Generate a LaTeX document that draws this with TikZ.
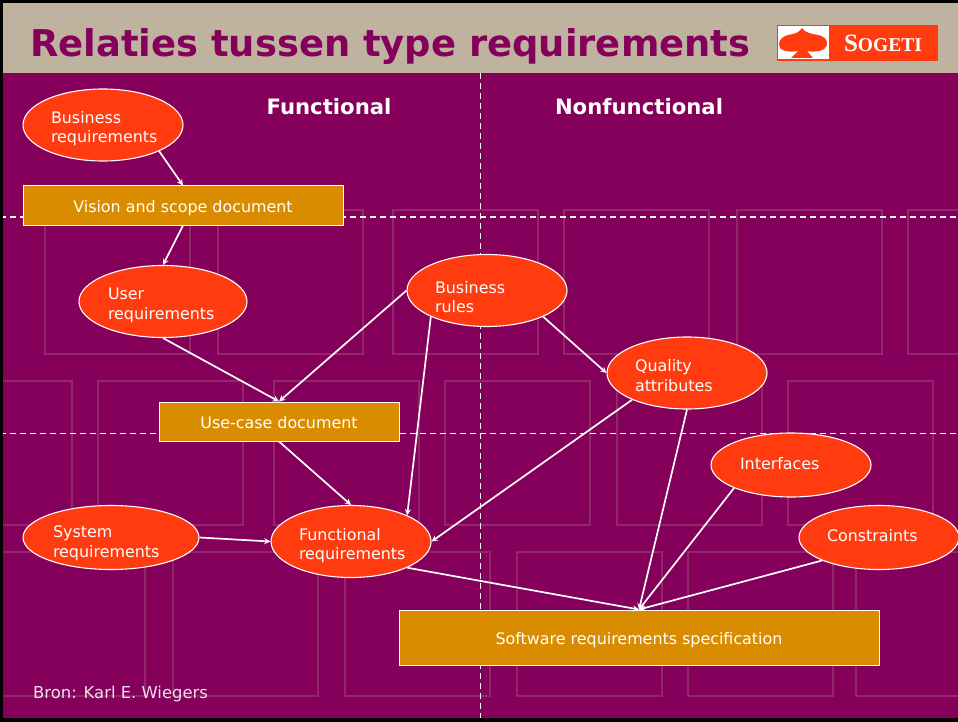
\documentclass[tikz,border=0pt]{standalone}
\usepackage{xcolor}
\usepackage{fontspec}
\setmainfont{DejaVu Sans}
\newfontfamily\logofont{Liberation Serif}
\usetikzlibrary{shapes.geometric, arrows, positioning}

\definecolor{slidepurple}{HTML}{85005A}
\definecolor{slidebeige}{HTML}{BFB3A0}
\definecolor{slideorange}{HTML}{FF3B0F}
\definecolor{slidegold}{HTML}{D98C00}
\definecolor{tileline}{HTML}{912868}

\tikzset{
    reqellipse/.style={ellipse,draw=white,line width=1.1pt,fill=slideorange,text=white,
        minimum width=160pt,minimum height=72pt,inner sep=0pt,
        font=\fontsize{15.9}{19.5}\selectfont,text width=104pt,align=left,
        text height=0pt,text depth=3pt},
    reqflat/.style={reqellipse,minimum height=64pt,text height=8pt,text depth=0pt},
    docbox/.style={rectangle,draw=white,line width=1pt,fill=slidegold,text=white,
        inner sep=0pt,font=\fontsize{15.9}{19.5}\selectfont,text height=13pt,text depth=0pt},
    heading/.style={text=white,inner sep=0pt,font=\fontsize{21.2}{26}\selectfont\bfseries},
    link/.style={draw=white,line width=1.7pt,-stealth},
    tile/.style={draw=tileline,line width=1.2pt},
    sectionline/.style={draw=white,line width=1pt,dash pattern=on 6pt off 4pt}
}

\begin{document}
\begin{tikzpicture}[x=1pt,y=-1pt]
    \useasboundingbox (0,0) rectangle (958,722);
    \fill[slidepurple] (0,0) rectangle (958,722);

    \foreach \tx in {45,218,393,564,737,908}
        \draw[tile] (\tx,210) rectangle ++(145,144);
    \foreach \tx in {-73,98,274,445,617,788}
        \draw[tile] (\tx,381) rectangle ++(145,144);
    \foreach \tx in {0,173,345,517,688,856}
        \draw[tile] (\tx,552) rectangle ++(145,144);

    \fill[slidebeige] (0,0) rectangle (958,73);
    \draw[sectionline] (0,217) -- (958,217);
    \draw[sectionline] (0,433) -- (958,433);
    \draw[sectionline] (480,73) -- (480,722);
    \fill[black] (0,0) rectangle (958,3);
    \fill[black] (0,0) rectangle (3,722);
    \fill[black] (0,718) rectangle (958,722);

    \node[anchor=west,inner sep=0pt,text=slidepurple,font=\fontsize{36.9}{44}\selectfont\bfseries] (title) at (30,46) {Relaties tussen type requirements};

    \node[rectangle,fill=slideorange,draw=slideorange,minimum width=160pt,minimum height=35pt,inner sep=0pt] (logo) at (857,43) {};
    \node[rectangle,fill=white,minimum width=51pt,minimum height=33pt,inner sep=0pt] (logomark) at (803,43) {};
    \fill[slideorange] (802,28) .. controls (805,33) and (812,34) .. (818,35)
        .. controls (824,36) and (828,40) .. (827,45)
        .. controls (826,50) and (817,53) .. (807,51)
        -- (813,58) -- (791,58) -- (798,51)
        .. controls (787,53) and (778,50) .. (779,44)
        .. controls (779,39) and (784,36) .. (788,35)
        .. controls (794,34) and (799,33) .. (802,28) -- cycle;
    \node[text=white,inner sep=0pt,font=\logofont\bfseries] (logotext) at (883,43) {\fontsize{25}{25}\selectfont S\fontsize{19.5}{25}\selectfont OGETI};

    \node[heading] (functional) at (329,107) {Functional};
    \node[heading] (nonfunctional) at (639,107) {Nonfunctional};

    \node[reqellipse] (bizreq) at (103,125) {Business\\requirements};
    \node[reqellipse,minimum width=168pt,text width=110pt,text depth=4pt] (userreq) at (163,301.5) {User\\requirements};
    \node[reqellipse,text height=5pt,text depth=0pt] (bizrules) at (487,290.5) {Business\\rules};
    \node[reqellipse] (quality) at (687,373) {Quality\\attributes};
    \node[reqflat,text width=102pt] (interfaces) at (791,465) {Interfaces};
    \node[reqflat] (constraints) at (879,537.5) {Constraints};
    \node[reqellipse,minimum width=176pt,minimum height=64pt,text width=116pt,text depth=0pt] (sysreq) at (111,537.5) {System\\requirements};
    \node[reqellipse] (funcreq) at (351,541.5) {Functional\\requirements};

    \node[docbox,minimum width=320pt,minimum height=39pt] (vision) at (183,205.5) {Vision and scope document};
    \node[docbox,minimum width=240pt,minimum height=39pt] (usecase) at (279,421.5) {Use-case document};
    \node[docbox,minimum width=480pt,minimum height=55pt] (srs) at (639,637.5) {Software requirements specification};

    \draw[link] (bizreq.335) -- (vision.north);
    \draw[link] (vision.south) -- (userreq.north);
    \draw[link] (userreq.south) -- (usecase.north);
    \draw[link] (bizrules.west) -- (usecase.north);
    \draw[link] (bizrules.205) -- (funcreq.25);
    \draw[link] (bizrules.335) -- (quality.west);
    \draw[link] (quality.206) -- (funcreq.east);
    \draw[link] (quality.south) -- (srs.north);
    \draw[link] (usecase.south) -- (funcreq.north);
    \draw[link] (interfaces.202) -- (srs.north);
    \draw[link] (constraints.202) -- (srs.north);
    \draw[link] (sysreq.east) -- (funcreq.west);
    \draw[link] (funcreq.335) -- (srs.north);

    \node[anchor=west,inner sep=0pt,text=white!88!slidepurple,font=\fontsize{16.4}{19.5}\selectfont] (source) at (33,694) {Bron: Karl E. Wiegers};
\end{tikzpicture}
\end{document}
